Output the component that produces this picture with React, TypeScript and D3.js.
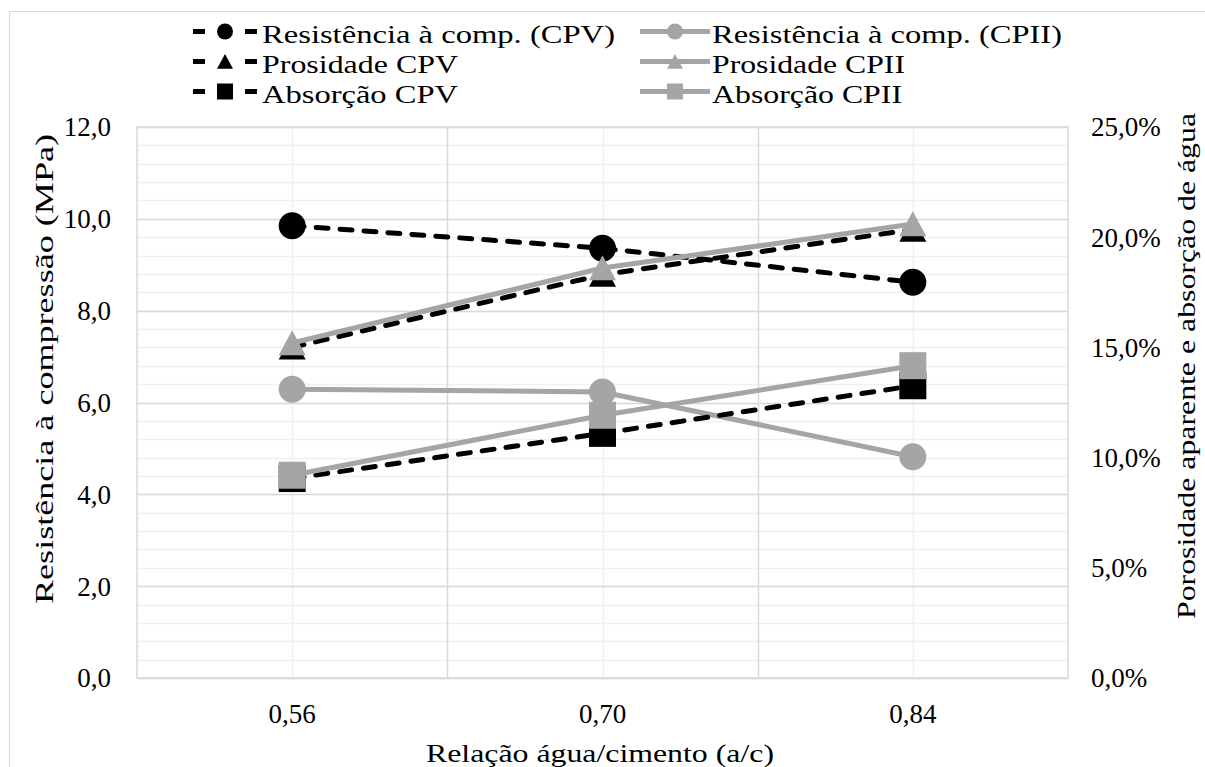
import { useEffect, useRef } from 'react';
import * as d3 from 'd3';

// categories (a/c ratio)
const categories = ['0,56', '0,70', '0,84'];

// compressive strength (MPa) - left axis
const resistCPV = [9.85, 9.36, 8.62];
const resistCPII = [6.29, 6.23, 4.82];

// porosity / absorption (%) - right axis
const porosCPV = [15.0, 18.3, 20.35];
const porosCPII = [15.2, 18.6, 20.6];
const absorcaoCPV = [9.05, 11.1, 13.26];
const absorcaoCPII = [9.2, 11.92, 14.17];

const leftTicks = [0, 2, 4, 6, 8, 10, 12];
const rightTicks = [0, 5, 10, 15, 20, 25];

const seriesNames = [
  'Resistência à comp. (CPV)',
  'Resistência à comp. (CPII)',
  'Prosidade CPV',
  'Prosidade CPII',
  'Absorção CPV',
  'Absorção CPII',
];

const FONT = "'Liberation Serif', 'Times New Roman', Tinos, 'DejaVu Serif', 'Noto Serif', FreeSerif, 'Nimbus Roman', Times, serif";
const GRAY = '#a5a5a5';

const markerPath = (shape: string, s: number) => {
  const h = s / 2;
  if (shape === 'circle') return d3.symbol(d3.symbolCircle, Math.PI * h * h)();
  if (shape === 'square') return `M${-h},${-h}H${h}V${h}H${-h}Z`;
  return `M0,${-h * 0.95}L${h},${h * 0.9}L${-h},${h * 0.9}Z`;
};

const App = () => {
  const chartRef = useRef<HTMLDivElement>(null);

  useEffect(() => {
    document.body.style.margin = '0';
    if (!chartRef.current) return;
    d3.select(chartRef.current).selectAll('svg').remove();

    const W = 1205;
    const H = 767;
    const plot = { left: 137, right: 1068, top: 127, bottom: 678 };

    const svg = d3.select(chartRef.current)
      .append('svg')
      .attr('width', W)
      .attr('height', H)
      .attr('font-family', FONT)
      .style('font-family', FONT)
      .style('display', 'block');

    svg.append('rect').attr('width', W).attr('height', H).attr('fill', 'white');

    // chart area border (cropped in the original)
    svg.append('rect')
      .attr('x', 9.5).attr('y', 11.5)
      .attr('width', W + 20).attr('height', H + 20)
      .attr('fill', 'none')
      .attr('stroke', '#d9d9d9');

    const x = d3.scaleBand()
      .domain(categories)
      .range([plot.left, plot.right])
      .padding(0);
    const cx = (c: string) => x(c)! + x.bandwidth() / 2;

    const yLeft = d3.scaleLinear().domain([0, 12]).range([plot.bottom, plot.top]);
    const yRight = d3.scaleLinear().domain([0, 25]).range([plot.bottom, plot.top]);

    const grid = svg.append('g');
    // minor horizontal gridlines
    grid.selectAll('line.minor-h')
      .data(d3.range(0, 12.001, 0.4))
      .join('line')
      .attr('x1', plot.left).attr('x2', plot.right)
      .attr('y1', d => Math.round(yLeft(d)) + 0.5)
      .attr('y2', d => Math.round(yLeft(d)) + 0.5)
      .attr('stroke', '#f0f0f0')
      .attr('stroke-width', 1.5);

    // minor vertical gridlines (category centres)
    grid.selectAll('line.minor-v')
      .data(categories)
      .join('line')
      .attr('x1', d => Math.round(cx(d)) + 0.5)
      .attr('x2', d => Math.round(cx(d)) + 0.5)
      .attr('y1', plot.top).attr('y2', plot.bottom)
      .attr('stroke', '#f0f0f0')
      .attr('stroke-width', 1.5);

    // major horizontal gridlines
    grid.selectAll('line.major-h')
      .data(leftTicks)
      .join('line')
      .attr('x1', plot.left).attr('x2', plot.right)
      .attr('y1', d => Math.round(yLeft(d)) + 0.5)
      .attr('y2', d => Math.round(yLeft(d)) + 0.5)
      .attr('stroke', '#d9d9d9')
      .attr('stroke-width', 1.5);

    // major vertical gridlines (category boundaries)
    grid.selectAll('line.major-v')
      .data(categories.slice(1))
      .join('line')
      .attr('x1', d => Math.round(x(d)!) + 0.5)
      .attr('x2', d => Math.round(x(d)!) + 0.5)
      .attr('y1', plot.top).attr('y2', plot.bottom)
      .attr('stroke', '#d9d9d9')
      .attr('stroke-width', 1.5);

    // plot area border
    svg.append('rect')
      .attr('x', plot.left).attr('y', plot.top)
      .attr('width', plot.right - plot.left)
      .attr('height', plot.bottom - plot.top)
      .attr('fill', 'none')
      .attr('stroke', '#d9d9d9')
      .attr('stroke-width', 1.5);

    // tick labels
    svg.append('g').selectAll('text')
      .data(leftTicks)
      .join('text')
      .attr('x', 111)
      .attr('y', d => yLeft(d))
      .attr('dy', '0.35em')
      .attr('text-anchor', 'end')
      .attr('font-size', 27)
      .text(d => d.toFixed(1).replace('.', ','));

    svg.append('g').selectAll('text')
      .data(rightTicks)
      .join('text')
      .attr('x', 1091)
      .attr('y', d => yRight(d))
      .attr('dy', '0.35em')
      .attr('text-anchor', 'start')
      .attr('font-size', 27)
      .text(d => d.toFixed(1).replace('.', ',') + '%');

    svg.append('g').selectAll('text')
      .data(categories)
      .join('text')
      .attr('x', d => cx(d))
      .attr('y', 723)
      .attr('text-anchor', 'middle')
      .attr('font-size', 27)
      .text(d => d);

    // axis titles (text lengths matched to the original's wider lettering)
    svg.append('text')
      .attr('x', 600)
      .attr('y', 762)
      .attr('text-anchor', 'middle')
      .attr('font-size', 26)
      .attr('textLength', 348)
      .attr('lengthAdjust', 'spacingAndGlyphs')
      .text('Relação água/cimento (a/c)');

    svg.append('text')
      .attr('transform', 'translate(53,369) rotate(-90)')
      .attr('text-anchor', 'middle')
      .attr('font-size', 26)
      .attr('textLength', 470)
      .attr('lengthAdjust', 'spacingAndGlyphs')
      .text('Resistência à compressão (MPa)');

    svg.append('text')
      .attr('transform', 'translate(1195,366) rotate(-90)')
      .attr('text-anchor', 'middle')
      .attr('font-size', 26)
      .attr('textLength', 506)
      .attr('lengthAdjust', 'spacingAndGlyphs')
      .text('Porosidade aparente e absorção de água');

    // series, in Excel drawing order
    const series = [
      { name: seriesNames[0], values: resistCPV, y: yLeft, dark: true, shape: 'circle' },
      { name: seriesNames[1], values: resistCPII, y: yLeft, dark: false, shape: 'circle' },
      { name: seriesNames[2], values: porosCPV, y: yRight, dark: true, shape: 'triangle' },
      { name: seriesNames[3], values: porosCPII, y: yRight, dark: false, shape: 'triangle' },
      { name: seriesNames[4], values: absorcaoCPV, y: yRight, dark: true, shape: 'square' },
      { name: seriesNames[5], values: absorcaoCPII, y: yRight, dark: false, shape: 'square' },
    ];

    series.forEach(s => {
      const color = s.dark ? '#000' : GRAY;
      const line = d3.line<number>()
        .x((_, i) => cx(categories[i]))
        .y(d => s.y(d));
      const g = svg.append('g');
      g.append('path')
        .attr('d', line(s.values))
        .attr('fill', 'none')
        .attr('stroke', color)
        .attr('stroke-width', 5)
        .attr('stroke-linecap', s.dark ? 'round' : 'butt')
        .attr('stroke-dasharray', s.dark ? '12,12' : null);
      g.selectAll('path.marker')
        .data(s.values)
        .join('path')
        .attr('class', 'marker')
        .attr('transform', (d, i) => `translate(${cx(categories[i])},${s.y(d)})`)
        .attr('d', markerPath(s.shape, 27))
        .attr('fill', color);
    });

    // legend (two columns, row-major)
    const legendWidths = [353, 350, 196, 193, 196, 190];
    const legend = svg.append('g');
    series.forEach((s, i) => {
      const col = i % 2;
      const row = Math.floor(i / 2);
      const ly = 31.5 + row * 30;
      const color = s.dark ? '#000' : GRAY;
      const x0 = col === 0 ? 193 : 640;
      const x1 = col === 0 ? 257 : 710;
      const item = legend.append('g');
      item.append('line')
        .attr('x1', x0).attr('x2', x1)
        .attr('y1', ly).attr('y2', ly)
        .attr('stroke', color)
        .attr('stroke-width', 5)
        .attr('stroke-dasharray', s.dark ? '12,40,12' : null);
      item.append('path')
        .attr('transform', `translate(${(x0 + x1) / 2},${ly})`)
        .attr('d', markerPath(s.shape, 16))
        .attr('fill', color);
      item.append('text')
        .attr('x', col === 0 ? 262 : 712)
        .attr('y', ly + 11)
        .attr('font-size', 26)
        .attr('textLength', legendWidths[i])
        .attr('lengthAdjust', 'spacingAndGlyphs')
        .text(s.name);
    });

    return () => {
      if (chartRef.current) d3.select(chartRef.current).selectAll('svg').remove();
    };
  }, []);

  return <div ref={chartRef} style={{ width: 1205, height: 767, overflow: 'hidden' }}></div>;
};

export default App;
